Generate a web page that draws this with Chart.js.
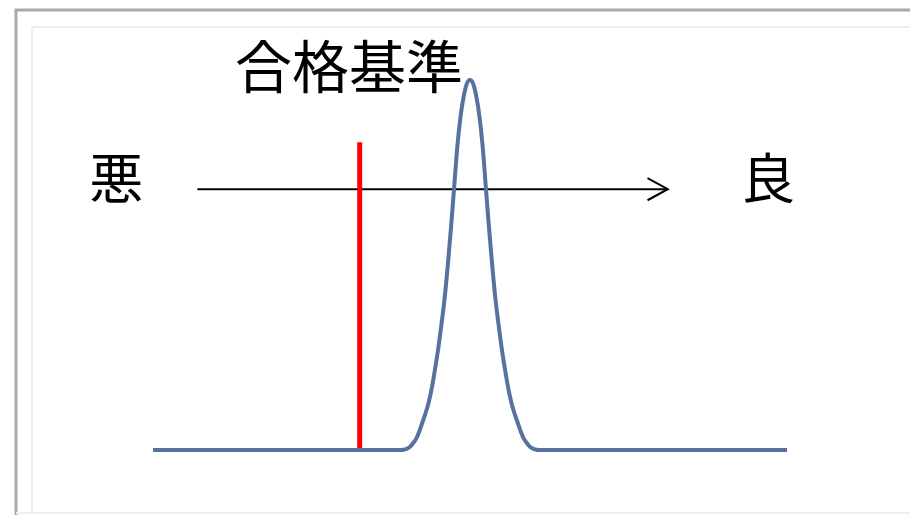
<!DOCTYPE html>
<html>
<head>
<meta charset="utf-8">
<script src="https://cdn.jsdelivr.net/npm/chart.js@4"></script>
<style>
  html, body { margin: 0; padding: 0; background: #fff; }
  #wrap { width: 910px; height: 515px; }
</style>
</head>
<body>
<div id="wrap"><canvas id="qualityChart" width="910" height="515"></canvas></div>
<script>
// bell curve (x = score 0..100, y = share 0..100)
const curveX = [0, 39, 39.5, 40, 40.5, 41, 41.5, 42, 42.5, 43, 43.5, 44, 44.5, 45, 45.5, 46, 46.5, 47, 47.5, 48, 48.5, 49, 49.5,
  50, 50.5, 51, 51.5, 52, 52.5, 53, 53.5, 54, 54.5, 55, 55.5, 56, 56.5, 57, 57.5, 58, 58.5, 59, 59.5, 60, 60.5, 61, 100];
const curveY = [0, 0, 0.05, 0.3, 0.8, 1.8, 3, 5, 7.5, 10, 13, 17, 22, 27.5, 34, 41, 50, 60, 71, 82, 90, 95.5, 99,
  100, 99, 95.5, 90, 82, 71, 60, 50, 41, 34, 27.5, 22, 17, 13, 10, 7.5, 5, 3, 1.8, 0.8, 0.3, 0.05, 0, 0];

// pass threshold (red)
const passX = [32.6, 32.6];
const passY = [-0.5, 83.2];

// bad -> good arrow
const arrowX = [7, 81.2];
const arrowY = [70.5, 70.5];
const arrowHeadX = [78, 81.2, 78];
const arrowHeadY = [73.5, 70.5, 67.5];

const labels = ["悪", "良", "合格基準"];

const toPoints = (xs, ys) => xs.map((x, i) => ({ x: x, y: ys[i] }));

// frame + text labels
const decorPlugin = {
  id: "decor",
  beforeDraw(chart) {
    const ctx = chart.ctx;
    ctx.save();
    ctx.fillStyle = "#fff";
    ctx.fillRect(0, 0, chart.width, chart.height);
    // faint inner frame
    ctx.strokeStyle = "#efefef";
    ctx.lineWidth = 2;
    ctx.beginPath();
    ctx.moveTo(32, 514);
    ctx.lineTo(32, 27);
    ctx.lineTo(910, 27);
    ctx.stroke();
    // outer gray frame
    ctx.strokeStyle = "#a9a9a9";
    ctx.lineWidth = 3;
    ctx.beginPath();
    ctx.moveTo(16, 515);
    ctx.lineTo(16, 10);
    ctx.lineTo(910, 10);
    ctx.stroke();
    ctx.strokeStyle = "#f0f0f0";
    ctx.lineWidth = 2;
    ctx.beginPath();
    ctx.moveTo(16, 513);
    ctx.lineTo(910, 513);
    ctx.stroke();
    ctx.restore();
  },
  afterDraw(chart) {
    const ctx = chart.ctx;
    const xs = chart.scales.x, ys = chart.scales.y;
    ctx.save();
    ctx.fillStyle = "#000";
    ctx.textAlign = "center";
    ctx.textBaseline = "middle";
    ctx.font = '54px "Noto Sans CJK JP"';
    ctx.fillText(labels[0], xs.getPixelForValue(-5.8), ys.getPixelForValue(73.5));
    ctx.fillText(labels[1], xs.getPixelForValue(97), ys.getPixelForValue(73.3));
    ctx.font = '57px "Noto Sans CJK JP"';
    ctx.fillText(labels[2], xs.getPixelForValue(30.9), ys.getPixelForValue(103.8));
    ctx.restore();
  }
};

new Chart(document.getElementById("qualityChart"), {
  type: "line",
  data: {
    datasets: [
      {
        label: "curve",
        data: toPoints(curveX, curveY),
        borderColor: "#58719f",
        borderWidth: 4,
        cubicInterpolationMode: "monotone",
        pointRadius: 0,
        clip: false,
      },
      {
        label: "pass",
        data: toPoints(passX, passY),
        borderColor: "#ff0000",
        borderWidth: 5,
        pointRadius: 0,
        clip: false,
      },
      {
        label: "arrow",
        data: toPoints(arrowX, arrowY),
        borderColor: "#000",
        borderWidth: 2,
        pointRadius: 0,
        clip: false,
      },
      {
        label: "arrowHead",
        data: toPoints(arrowHeadX, arrowHeadY),
        borderColor: "#000",
        borderWidth: 2,
        pointRadius: 0,
        clip: false,
      },
    ],
  },
  options: {
    responsive: false,
    animation: false,
    layout: { padding: { left: 153, right: 123, top: 80, bottom: 65 } },
    plugins: { legend: { display: false }, tooltip: { enabled: false } },
    scales: {
      x: { type: "linear", min: 0, max: 100, display: false },
      y: { type: "linear", min: 0, max: 100, display: false },
    },
  },
  plugins: [decorPlugin],
});
</script>
</body>
</html>
